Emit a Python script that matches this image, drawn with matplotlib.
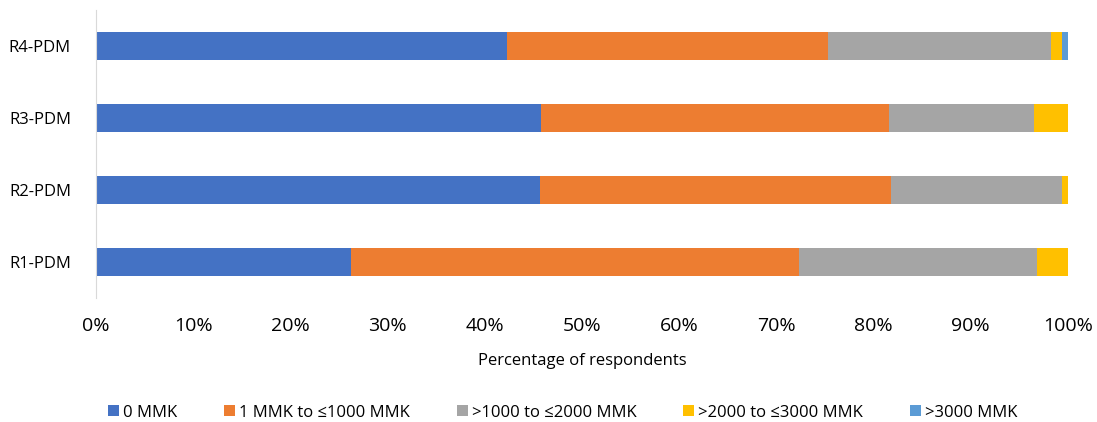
import matplotlib.pyplot as plt
import numpy as np

plt.rcParams['font.family'] = ['Open Sans', 'DejaVu Sans']

# Share of respondents per expenditure band, one value per round
rounds = ['R1-PDM', 'R2-PDM', 'R3-PDM', 'R4-PDM']
bands = ['0 MMK', '1 MMK to ≤1000 MMK', '>1000 to ≤2000 MMK',
         '>2000 to ≤3000 MMK', '>3000 MMK']
zero_mmk = [26.2, 45.7, 45.8, 42.3]
upto_1000 = [46.1, 36.1, 35.8, 33.0]
upto_2000 = [24.5, 17.6, 14.9, 23.0]
upto_3000 = [3.2, 0.6, 3.5, 1.1]
over_3000 = [0.0, 0.0, 0.0, 0.6]
colors = ['#4472c4', '#ed7d31', '#a5a5a5', '#ffc000', '#5b9bd5']

fig = plt.figure(figsize=(10.97, 4.22), dpi=100)
ax = fig.add_axes([0.0875, 0.294, 0.886, 0.682])

series = [zero_mmk, upto_1000, upto_2000, upto_3000, over_3000]
y = np.arange(len(rounds))
left = np.zeros(len(rounds))
for vals, name, c in zip(series, bands, colors):
    ax.barh(y, vals, left=left, height=0.4, color=c, label=name)
    left += np.array(vals)

ax.set_xlim(0, 100)
ax.set_ylim(-0.5, 3.5)
ax.set_yticks(y)
ax.set_yticklabels(rounds, fontsize=12)
ax.set_xticks(np.arange(0, 101, 10))
ax.set_xticklabels([f'{v}%' for v in range(0, 101, 10)], fontsize=14)
ax.tick_params(length=0)
ax.tick_params(axis='y', pad=18)
ax.tick_params(axis='x', pad=14)
ax.set_xlabel('Percentage of respondents', fontsize=12, labelpad=13)
for s in ['top', 'right', 'bottom']:
    ax.spines[s].set_visible(False)
ax.spines['left'].set_color('#d9d9d9')

fig.legend(loc='lower center', bbox_to_anchor=(0.513, -0.032), ncol=5,
           frameon=False, fontsize=12, handlelength=0.66, handleheight=0.66,
           handletextpad=0.25, columnspacing=2.8)

fig.savefig('out.png', dpi=100)
